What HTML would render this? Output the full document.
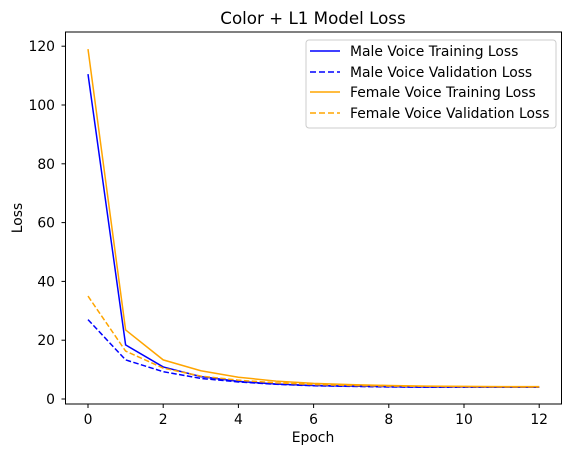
<!DOCTYPE html>
<html><head><meta charset="utf-8"><style>
body{margin:0;background:#fff;}
svg{display:block;font-family:"DejaVu Sans","Liberation Sans",sans-serif;}
</style></head><body>
<svg id="chart" width="571" height="455" xmlns="http://www.w3.org/2000/svg">
<rect width="571" height="455" fill="#fff"/>
<text x="313" y="24" font-size="16.7" text-anchor="middle" fill="#000">Color + L1 Model Loss</text>
<g id="grid"></g>
<g id="series"></g>
<rect x="65.5" y="32" width="496" height="372" fill="none" stroke="#000" stroke-width="1"/>
<text x="313" y="442" font-size="13.9" text-anchor="middle">Epoch</text>
<text x="0" y="0" font-size="13.9" text-anchor="middle" transform="translate(22,218) rotate(-90)">Loss</text>
<g>
<rect x="306" y="40" width="250" height="88" rx="3" fill="#fff" stroke="#ccc"/>
<line x1="310" y1="51" x2="340" y2="51" stroke="#0000ff" stroke-width="1.5"/>
<text x="350" y="56" font-size="13.9">Male Voice Training Loss</text>
<line x1="310" y1="72" x2="340" y2="72" stroke="#0000ff" stroke-width="1.5" stroke-dasharray="6,3"/>
<text x="350" y="77" font-size="13.9">Male Voice Validation Loss</text>
<line x1="310" y1="92" x2="340" y2="92" stroke="#ffa500" stroke-width="1.5"/>
<text x="350" y="97" font-size="13.9">Female Voice Training Loss</text>
<line x1="310" y1="113" x2="340" y2="113" stroke="#ffa500" stroke-width="1.5" stroke-dasharray="6,3"/>
<text x="350" y="118" font-size="13.9">Female Voice Validation Loss</text>
</g>
</svg>
<script>
const epochs=[0,1,2,3,4,5,6,7,8,9,10,11,12];
const maleTrain=[110.5,18.4,10.9,7.6,6.0,5.1,4.6,4.4,4.2,4.1,4.1,4.0,4.0];
const maleVal=[27,13.3,9.3,7.0,5.8,5.0,4.5,4.3,4.1,4.0,4.0,4.0,4.0];
const femaleTrain=[119,23.5,13.3,9.6,7.4,6.1,5.3,4.9,4.6,4.4,4.3,4.2,4.2];
const femaleVal=[35,16.3,10.5,7.8,6.4,5.5,4.9,4.6,4.4,4.3,4.2,4.1,4.1];
const xTicks=[0,2,4,6,8,10,12];
const yTicks=[0,20,40,60,80,100,120];
const X=v=>88+v*37.6;
const Y=v=>399-v*2.94;
const ns="http://www.w3.org/2000/svg";
const g=document.getElementById('grid');
xTicks.forEach(t=>{
 const l=document.createElementNS(ns,'line');
 l.setAttribute('x1',X(t));l.setAttribute('x2',X(t));l.setAttribute('y1',404);l.setAttribute('y2',408);l.setAttribute('stroke','#000');
 
 
 g.appendChild(l);
 const tx=document.createElementNS(ns,'text');
 tx.setAttribute('x',X(t));tx.setAttribute('y',424);tx.setAttribute('font-size','13.9');tx.setAttribute('text-anchor','middle');tx.textContent=t;
 
 
 g.appendChild(tx);
});
yTicks.forEach(t=>{
 const l=document.createElementNS(ns,'line');
 l.setAttribute('x1',61.5);l.setAttribute('x2',65.5);l.setAttribute('y1',Y(t));l.setAttribute('y2',Y(t));l.setAttribute('stroke','#000');
 
 
 g.appendChild(l);
 const tx=document.createElementNS(ns,'text');
 tx.setAttribute('x',55);tx.setAttribute('y',Y(t)+5);tx.setAttribute('font-size','13.9');tx.setAttribute('text-anchor','end');tx.textContent=t;
 
 
 g.appendChild(tx);
});
const s=document.getElementById('series');
function line(vals,color,dash,name){
 const p=document.createElementNS(ns,'polyline');
 p.setAttribute('points',vals.map((v,i)=>X(epochs[i])+','+Y(v)).join(' '));
 p.setAttribute('fill','none');p.setAttribute('stroke',color);p.setAttribute('stroke-width','1.5');
 if(dash)p.setAttribute('stroke-dasharray','5.5,2.4');
 
 
 s.appendChild(p);
}
line(maleTrain,'#0000ff',false,'male-training-line');
line(maleVal,'#0000ff',true,'male-validation-line');
line(femaleTrain,'#ffa500',false,'female-training-line');
line(femaleVal,'#ffa500',true,'female-validation-line');
</script>
</body></html>
